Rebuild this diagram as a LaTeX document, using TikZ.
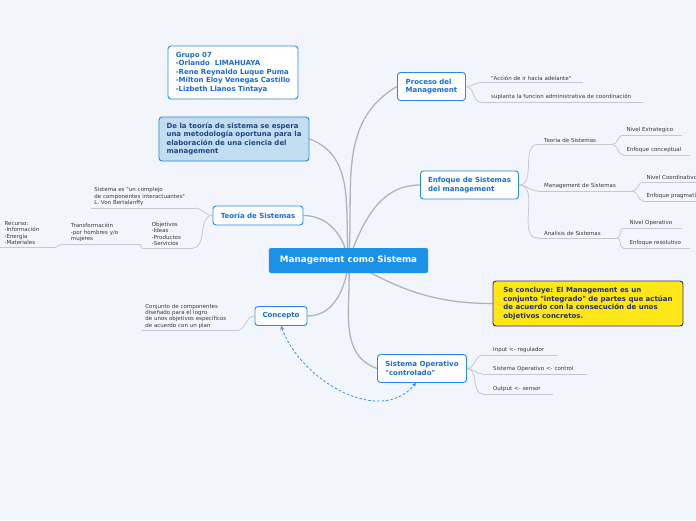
\documentclass[tikz,border=0pt]{standalone}
\usepackage{fontspec}
\setmainfont{DejaVu Sans}
\usetikzlibrary{arrows,positioning,backgrounds}

\definecolor{paper}{RGB}{243,245,253}
\definecolor{coreblue}{RGB}{28,146,230}
\definecolor{topicline}{RGB}{40,136,230}
\definecolor{topictext}{RGB}{24,108,214}
\definecolor{notefill}{RGB}{194,220,240}
\definecolor{notetext}{RGB}{30,72,135}
\definecolor{verdictfill}{RGB}{255,230,22}
\definecolor{verdictline}{RGB}{42,52,112}
\definecolor{verdicttext}{RGB}{36,46,104}
\definecolor{branchgray}{RGB}{178,178,188}
\definecolor{twiggray}{RGB}{198,198,208}
\definecolor{leaftext}{RGB}{55,55,60}
\definecolor{linkblue}{RGB}{60,143,224}

\newcommand{\dq}{\textquotedbl}

\begin{document}
\begin{tikzpicture}[
    x=1pt, y=1pt,
    core/.style={rectangle, fill=coreblue, text=white, font=\fontsize{8.8}{10}\selectfont\bfseries, minimum width=159pt, minimum height=25pt, rounded corners=2pt},
    topic/.style={rectangle, draw=topicline, line width=0.9pt, fill=white, text=topictext, font=\fontsize{7}{8.5}\selectfont\bfseries, align=left, inner sep=2pt, rounded corners=3pt},
    note/.style={topic, fill=notefill, text=notetext},
    verdict/.style={topic, draw=verdictline, fill=verdictfill, text=verdicttext},
    leaf/.style={text=leaftext, font=\fontsize{5.5}{6.4}\selectfont, align=left, inner xsep=3pt, inner ysep=2pt},
    branch/.style={draw=branchgray, line width=1.3pt},
    twig/.style={draw=twiggray, line width=0.8pt},
    link/.style={<->, >=stealth, draw=linkblue, line width=0.8pt, dash pattern=on 2.5pt off 2pt}
]
    \useasboundingbox (-348.5,-259.5) rectangle (347.5,260.5);
    \begin{scope}[on background layer]
        \fill[paper] (-348.5,-259.5) rectangle (347.5,260.5);
    \end{scope}

    \node[core] (mgmt) at (0,0) {Management como Sistema};

    \node[topic, on grid, above left=188pt and 115.5pt of mgmt, minimum width=130pt, minimum height=53pt] (grupo) {Grupo 07\\-Orlando~ LIMAHUAYA\\-Rene Reynaldo Luque Puma\\-Milton Eloy Venegas Castillo\\-Lizbeth Llanos Tintaya};
    \node[note, on grid, above left=121.5pt and 114.5pt of mgmt, minimum width=150pt, minimum height=44pt] (idea) {De la teoría de sistema se espera\\una metodología oportuna para la\\elaboración de una ciencia del\\management};
    \node[topic, on grid, above left=45pt and 90.5pt of mgmt, minimum width=90pt, minimum height=19pt] (teo) {Teoría de Sistemas};
    \node[topic, on grid, below left=55.5pt and 67.5pt of mgmt, minimum width=52pt, minimum height=19pt] (conc) {Concepto};
    \node[topic, on grid, above right=174pt and 83pt of mgmt, minimum width=68pt, minimum height=28pt] (proc) {Proceso del\\Management};
    \node[topic, on grid, above right=75.5pt and 121pt of mgmt, minimum width=98pt, minimum height=28pt] (enf) {Enfoque de Sistemas\\del management};
    \node[verdict, on grid, below right=43pt and 239.5pt of mgmt, minimum width=190pt, minimum height=45pt] (verd) {Se concluye: El Management es un\\conjunto \dq integrado\dq{} de partes que actúan\\de acuerdo con la consecución de unos\\objetivos concretos.};
    \node[topic, on grid, below right=108pt and 73.5pt of mgmt, minimum width=89pt, minimum height=28pt] (sisop) {Sistema Operativo\\\dq controlado\dq};

    % leaves of Proceso del Management
    \node[leaf, inner xsep=10pt, text width=82pt, above right=3.8pt and 15pt of proc.east] (acc) {\dq Acción de ir hacia adelante\dq};
    \node[leaf, inner xsep=10pt, text width=142pt, above right=-15.5pt and 15pt of proc.east] (supl) {suplanta la funcion administrativa de coordinación};

    % leaves of Enfoque de Sistemas
    \node[leaf, inner xsep=6pt, text width=62pt, above right=40.5pt and 19pt of enf.east] (tsis) {Teoria de Sistemas};
    \node[leaf, inner xsep=6pt, text width=82pt, above right=-6pt and 19pt of enf.east] (msis) {Management de Sistemas};
    \node[leaf, inner xsep=6pt, text width=67pt, above right=-53pt and 19pt of enf.east] (asis) {Analisis de Sistemas};
    \node[leaf, text width=52pt, above right=9.5pt and 11pt of tsis.south east] (nest) {Nivel Estrategico};
    \node[leaf, text width=60pt, above right=-10.5pt and 11pt of tsis.south east] (econ) {Enfoque conceptual};
    \node[leaf, text width=64pt, above right=9pt and 11pt of msis.south east] (ncoo) {Nivel Coordinativo};
    \node[leaf, text width=64pt, above right=-10pt and 11pt of msis.south east] (epra) {Enfoque pragmatico};
    \node[leaf, inner xsep=6pt, text width=46pt, above right=10pt and 6pt of asis.south east] (nope) {Nivel Operativo};
    \node[leaf, inner xsep=6pt, text width=54pt, above right=-10pt and 6pt of asis.south east] (eres) {Enfoque resolutivo};

    % leaves of Sistema Operativo
    \node[leaf, inner xsep=10pt, text width=55pt, above right=13.5pt and 16pt of sisop.east] (inp) {Input <- regulador};
    \node[leaf, inner xsep=10pt, text width=84pt, above right=-5.5pt and 16pt of sisop.east] (sctl) {Sistema Operativo <- control};
    \node[leaf, inner xsep=10pt, text width=50pt, above right=-25.5pt and 16pt of sisop.east] (outp) {Output <- sensor};

    % leaves on the left
    \node[leaf, text width=88pt, above left=-14.7pt and 18pt of conc.west] (cdef) {Conjunto de componentes\\diseñado para el logro\\de unos objetivos específicos\\de acuerdo con un plan};
    \node[leaf, text width=97pt, above left=7.5pt and 18pt of teo.west] (tdef) {Sistema es \dq un complejo\\de componentes interactuantes\dq\\L. Von Bertalanffy};
    \node[leaf, inner xsep=9.5pt, text width=31pt, above left=-32.5pt and 20pt of teo.west] (obj) {Objetivos\\-Ideas\\-Productos\\-Servicios};
    \node[leaf, inner xsep=9pt, text width=59pt, above left=4pt and 3pt of obj.south west] (trans) {Transformación\\-por hombres y/o\\mujeres};
    \node[leaf, inner xsep=6pt, text width=45pt, above left=-3pt and 6pt of trans.south west] (rec) {Recurso:\\-Información\\-Energía\\-Materiales};

    \foreach \n in {acc,supl,tsis,msis,asis,nest,econ,ncoo,epra,nope,eres,inp,sctl,outp,cdef,tdef,obj,trans,rec}
        \draw[twig] (\n.south west) -- (\n.south east);

    \begin{scope}[on background layer]
        \draw[branch] (mgmt.center) to[out=85, in=210] (proc.west);
        \draw[branch] (mgmt.center) to[out=70, in=180] (enf.west);
        \draw[branch] (mgmt.center) to[out=95, in=-20] (idea.east);
        \draw[branch] (mgmt.center) to[out=100, in=0] (teo.east);
        \draw[branch] (mgmt.center) to[out=-95, in=0] (conc.east);
        \draw[branch] (mgmt.center) to[out=-85, in=160] (sisop.west);
        \draw[branch] (mgmt.center) to[out=-30, in=180] (verd.west);
    \end{scope}

    \draw[twig] (proc.east) to[out=0, in=180] (acc.south west);
    \draw[twig] (proc.east) to[out=0, in=180] (supl.south west);
    \draw[twig] (enf.east) to[out=0, in=180] (tsis.south west);
    \draw[twig] (enf.east) to[out=0, in=180] (msis.south west);
    \draw[twig] (enf.east) to[out=0, in=180] (asis.south west);
    \draw[twig] (tsis.south east) to[out=0, in=180] (nest.south west);
    \draw[twig] (tsis.south east) to[out=0, in=180] (econ.south west);
    \draw[twig] (msis.south east) to[out=0, in=180] (ncoo.south west);
    \draw[twig] (msis.south east) to[out=0, in=180] (epra.south west);
    \draw[twig] (asis.south east) to[out=0, in=180] (nope.south west);
    \draw[twig] (asis.south east) to[out=0, in=180] (eres.south west);
    \draw[twig] (sisop.east) to[out=0, in=180] (inp.south west);
    \draw[twig] (sisop.east) to[out=0, in=180] (sctl.south west);
    \draw[twig] (sisop.east) to[out=0, in=180] (outp.south west);
    \draw[twig] (conc.west) to[out=180, in=0] (cdef.south east);
    \draw[twig] (teo.west) to[out=180, in=0] (tdef.south east);
    \draw[twig] (teo.west) to[out=180, in=0] (obj.south east);
    \draw[twig] (obj.south west) to[out=180, in=0] (trans.south east);
    \draw[twig] (trans.south west) to[out=180, in=0] (rec.south east);

    \draw[link] (conc.south) to[out=-70, in=-130] ([xshift=-6pt]sisop.south);
\end{tikzpicture}
\end{document}
